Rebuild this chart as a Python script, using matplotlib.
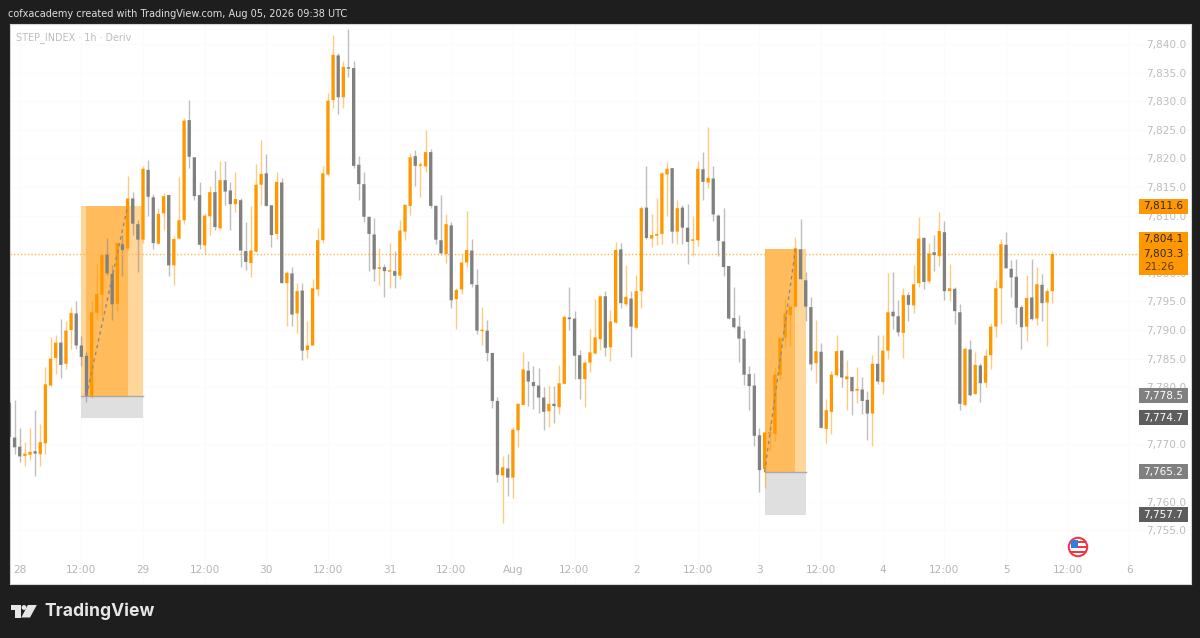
import matplotlib
matplotlib.use('Agg')
import matplotlib.pyplot as plt
import numpy as np
from matplotlib.patches import Rectangle, Circle, Polygon

# velas de 1h, STEP_INDEX, desde el 27 jul 22:00 hasta el 5 ago 09:00
opens = [
    7777.3, 7771.2, 7769.6, 7768.0, 7768.2, 7768.8, 7768.3, 7770.2, 7780.3, 7785.1,
    7787.8, 7784.1, 7790.0, 7792.9, 7787.3, 7785.5, 7778.5, 7793.0, 7796.2, 7803.2,
    7799.8, 7794.6, 7805.0, 7804.3, 7813.0, 7808.5, 7805.8, 7818.0, 7813.2, 7805.1,
    7810.4, 7813.6, 7801.3, 7806.0, 7809.2, 7826.7, 7820.2, 7813.6, 7804.8, 7809.9,
    7814.1, 7807.8, 7816.2, 7814.4, 7812.0, 7812.7, 7803.8, 7801.7, 7803.7, 7815.4,
    7817.4, 7811.8, 7806.8, 7815.8, 7798.2, 7799.9, 7792.9, 7796.9, 7786.5, 7787.3,
    7797.1, 7805.7, 7817.2, 7830.2, 7838.0, 7830.7, 7835.8, 7835.8, 7818.9, 7815.5,
    7809.8, 7806.7, 7800.7, 7801.0, 7800.2, 7800.3, 7799.5, 7807.2, 7811.7, 7820.4,
    7818.7, 7818.6, 7821.1, 7811.7, 7805.7, 7803.3, 7808.3, 7795.4, 7797.1, 7801.8,
    7803.9, 7797.9, 7789.8, 7789.9, 7786.0, 7777.6, 7764.6, 7765.8, 7764.2, 7772.5,
    7776.9, 7782.9, 7780.9, 7780.3, 7778.2, 7775.8, 7777.1, 7776.5, 7780.6, 7792.2,
    7792.0, 7785.6, 7781.4, 7784.3, 7785.9, 7788.4, 7795.9, 7787.0, 7791.3, 7804.1,
    7794.5, 7795.5, 7790.4, 7796.8, 7811.4, 7806.0, 7806.5, 7806.8, 7817.2, 7818.3,
    7807.2, 7811.4, 7807.9, 7805.6, 7805.7, 7818.1, 7815.8, 7816.5, 7810.0, 7805.5,
    7801.2, 7792.1, 7790.6, 7788.5, 7782.3, 7780.3, 7771.6, 7765.7, 7771.9, 7771.9,
    7782.1, 7788.7, 7792.6, 7794.1, 7804.1, 7798.7, 7794.0, 7784.2, 7786.2, 7772.7,
    7775.7, 7782.1, 7786.4, 7781.4, 7781.8, 7779.4, 7779.6, 7777.8, 7775.4, 7784.1,
    7780.9, 7786.4, 7793.2, 7792.4, 7789.5, 7796.1, 7794.3, 7798.2, 7806.1, 7798.5,
    7803.6, 7802.9, 7807.1, 7796.8, 7797.2, 7793.1, 7776.9, 7786.6, 7778.8, 7783.8,
    7780.8, 7785.6, 7790.6, 7797.3, 7804.9, 7800.7, 7799.3, 7794.0, 7790.6, 7795.7,
    7792.0, 7797.9, 7794.8, 7796.8,
]
highs = [
    7781.5, 7777.8, 7772.8, 7770.4, 7772.9, 7776.0, 7773.6, 7783.6, 7788.8, 7789.2,
    7791.9, 7791.6, 7794.1, 7795.0, 7788.9, 7786.2, 7795.0, 7801.7, 7803.4, 7806.1,
    7801.4, 7805.3, 7806.6, 7816.9, 7814.1, 7809.2, 7818.7, 7819.7, 7813.8, 7811.3,
    7813.9, 7813.8, 7806.4, 7816.8, 7827.1, 7830.2, 7820.2, 7815.8, 7810.5, 7815.1,
    7818.0, 7819.6, 7819.6, 7815.8, 7817.6, 7813.0, 7808.8, 7811.6, 7819.0, 7823.3,
    7820.8, 7811.8, 7817.6, 7816.5, 7800.3, 7801.0, 7798.2, 7798.2, 7791.5, 7799.0,
    7807.8, 7818.6, 7831.4, 7841.6, 7838.4, 7837.0, 7842.6, 7837.0, 7820.4, 7817.7,
    7809.8, 7809.6, 7804.3, 7801.5, 7805.2, 7803.8, 7809.2, 7811.9, 7821.0, 7821.4,
    7819.3, 7824.9, 7821.6, 7811.9, 7813.6, 7810.3, 7808.8, 7797.4, 7803.3, 7810.8,
    7805.9, 7800.6, 7794.1, 7791.8, 7786.0, 7778.3, 7768.0, 7768.4, 7773.0, 7777.3,
    7786.2, 7784.5, 7783.7, 7783.4, 7780.0, 7780.3, 7780.2, 7783.8, 7792.6, 7797.6,
    7793.4, 7786.5, 7784.5, 7790.2, 7795.4, 7796.1, 7796.8, 7793.5, 7805.4, 7805.2,
    7801.4, 7796.8, 7799.6, 7811.6, 7818.6, 7810.3, 7813.0, 7817.7, 7819.4, 7818.4,
    7812.7, 7811.8, 7812.0, 7809.9, 7819.6, 7821.1, 7825.5, 7818.6, 7810.3, 7811.3,
    7801.2, 7797.5, 7792.7, 7790.0, 7783.7, 7782.4, 7772.9, 7772.2, 7773.9, 7783.6,
    7788.7, 7795.5, 7794.2, 7806.3, 7809.4, 7800.2, 7795.8, 7791.7, 7787.8, 7777.9,
    7782.9, 7789.2, 7786.5, 7784.7, 7781.8, 7783.5, 7781.8, 7779.3, 7785.7, 7789.2,
    7789.2, 7799.9, 7800.2, 7795.2, 7797.3, 7796.6, 7801.3, 7809.7, 7806.3, 7805.3,
    7806.6, 7810.6, 7809.0, 7801.5, 7797.5, 7794.5, 7787.0, 7788.3, 7786.1, 7784.2,
    7786.6, 7791.3, 7798.7, 7805.9, 7807.1, 7802.2, 7802.4, 7794.3, 7799.7, 7802.4,
    7801.1, 7799.8, 7797.3, 7803.9,
]
lows = [
    7771.3, 7768.4, 7767.0, 7766.3, 7767.3, 7764.5, 7766.3, 7768.4, 7780.3, 7782.3,
    7781.7, 7783.1, 7786.6, 7786.7, 7783.7, 7777.5, 7778.1, 7791.9, 7792.3, 7799.6,
    7791.8, 7793.3, 7799.5, 7804.0, 7806.7, 7800.1, 7805.3, 7809.9, 7804.2, 7805.1,
    7807.5, 7799.4, 7797.8, 7806.0, 7808.5, 7818.4, 7812.7, 7804.2, 7803.3, 7806.6,
    7807.4, 7807.4, 7811.9, 7807.4, 7810.6, 7801.1, 7800.5, 7799.3, 7803.7, 7811.9,
    7811.7, 7804.6, 7805.9, 7798.2, 7790.7, 7790.7, 7789.5, 7784.8, 7785.1, 7787.3,
    7795.9, 7805.3, 7817.0, 7828.8, 7827.8, 7828.8, 7834.3, 7818.4, 7812.8, 7808.9,
    7800.4, 7798.5, 7797.8, 7795.7, 7797.4, 7797.3, 7798.9, 7805.7, 7810.1, 7815.2,
    7813.3, 7817.6, 7811.3, 7805.1, 7803.2, 7801.7, 7793.8, 7790.2, 7796.3, 7801.1,
    7797.6, 7789.3, 7787.4, 7784.6, 7776.4, 7763.5, 7756.2, 7760.9, 7760.7, 7769.5,
    7776.9, 7776.8, 7776.2, 7775.5, 7772.6, 7773.0, 7773.8, 7775.4, 7780.6, 7790.0,
    7781.4, 7777.9, 7776.5, 7782.7, 7785.8, 7786.5, 7785.5, 7784.5, 7791.3, 7793.8,
    7794.2, 7785.3, 7790.1, 7793.8, 7806.0, 7804.6, 7804.9, 7805.1, 7809.9, 7805.3,
    7805.0, 7805.0, 7801.6, 7803.0, 7804.7, 7812.7, 7814.9, 7809.1, 7802.9, 7799.4,
    7791.9, 7790.4, 7784.4, 7780.4, 7776.1, 7769.8, 7761.7, 7762.3, 7769.0, 7770.6,
    7781.5, 7787.1, 7787.2, 7794.1, 7798.9, 7791.5, 7783.0, 7780.8, 7772.9, 7770.3,
    7771.8, 7782.0, 7780.1, 7776.1, 7775.1, 7777.3, 7775.4, 7770.8, 7769.8, 7780.6,
    7778.9, 7785.0, 7790.1, 7789.0, 7785.1, 7791.5, 7793.0, 7797.6, 7797.2, 7798.3,
    7800.4, 7801.2, 7795.2, 7795.1, 7791.1, 7776.0, 7776.8, 7778.5, 7778.8, 7777.5,
    7780.0, 7783.2, 7788.7, 7791.1, 7800.8, 7795.7, 7791.1, 7786.7, 7788.1, 7791.8,
    7790.8, 7791.5, 7787.2, 7794.8,
]
closes = [
    7771.3, 7769.5, 7767.9, 7768.4, 7768.7, 7768.4, 7770.4, 7780.5, 7785.0, 7787.8,
    7783.9, 7789.9, 7793.0, 7787.3, 7785.3, 7778.5, 7793.1, 7796.3, 7803.1, 7799.9,
    7794.5, 7805.2, 7804.0, 7813.0, 7808.6, 7805.8, 7818.2, 7813.3, 7805.2, 7810.3,
    7813.4, 7801.3, 7805.9, 7809.2, 7826.6, 7820.3, 7813.4, 7804.9, 7810.0, 7814.1,
    7808.0, 7816.2, 7814.2, 7812.0, 7812.9, 7803.9, 7801.9, 7803.9, 7815.4, 7817.3,
    7811.7, 7806.6, 7815.9, 7798.2, 7800.0, 7792.7, 7796.8, 7786.4, 7787.3, 7797.3,
    7805.7, 7817.4, 7830.1, 7838.1, 7830.7, 7836.0, 7835.7, 7818.7, 7815.5, 7809.8,
    7806.8, 7800.6, 7801.0, 7800.3, 7800.3, 7799.5, 7807.4, 7811.9, 7820.2, 7818.7,
    7818.9, 7821.1, 7811.7, 7805.8, 7803.4, 7808.5, 7795.2, 7797.0, 7801.8, 7804.0,
    7798.0, 7789.9, 7790.0, 7786.0, 7777.6, 7764.7, 7766.0, 7764.2, 7772.6, 7777.1,
    7783.1, 7781.0, 7780.2, 7778.2, 7775.7, 7777.1, 7776.7, 7780.7, 7792.3, 7791.9,
    7785.5, 7781.4, 7784.3, 7786.1, 7788.7, 7795.9, 7786.9, 7791.5, 7804.0, 7794.7,
    7795.8, 7790.6, 7796.8, 7811.3, 7806.1, 7806.6, 7806.8, 7817.4, 7818.2, 7807.2,
    7811.3, 7807.9, 7805.4, 7805.7, 7818.2, 7815.9, 7816.6, 7810.2, 7805.6, 7801.0,
    7792.0, 7790.5, 7788.5, 7782.2, 7780.2, 7771.5, 7765.5, 7772.1, 7772.0, 7782.2,
    7788.6, 7792.9, 7794.1, 7804.3, 7798.9, 7794.1, 7784.0, 7786.3, 7772.9, 7776.0,
    7782.2, 7786.3, 7781.7, 7781.9, 7779.3, 7779.7, 7777.6, 7775.4, 7784.1, 7781.0,
    7786.4, 7793.1, 7792.4, 7789.6, 7796.1, 7794.4, 7798.0, 7806.0, 7798.4, 7803.4,
    7803.1, 7807.3, 7796.8, 7797.3, 7793.3, 7777.1, 7786.7, 7778.6, 7783.9, 7780.7,
    7785.5, 7790.6, 7797.3, 7805.0, 7800.8, 7799.2, 7793.9, 7790.5, 7795.6, 7791.9,
    7798.0, 7794.7, 7796.8, 7803.3,
]

# etiquetas de los ejes
price_ticks = [7755, 7760, 7770, 7780, 7785, 7790, 7795, 7800,
               7810, 7815, 7820, 7825, 7830, 7835, 7840]
time_pos = [2, 14, 26, 38, 50, 62, 74, 86, 98, 110, 122, 134, 146, 158, 170, 182, 194, 206, 218]
time_labels = ['28', '12:00', '29', '12:00', '30', '12:00', '31', '12:00', 'Aug', '12:00',
               '2', '12:00', '3', '12:00', '4', '12:00', '5', '12:00', '6']

# posiciones largas: inicio, fin, inicio del tramo, fin del tramo, stop, entrada, objetivo
long1 = [14, 26, 15, 23, 7774.7, 7778.5, 7811.6]
long2 = [147, 155, 147, 153, 7757.7, 7765.2, 7804.1]
last_price = 7803.3

DARK = '#1e1e1e'
ORANGE = '#ff9800'
GREY = '#808080'

fig = plt.figure(figsize=(12, 6.38), dpi=100, facecolor=DARK)
ax = fig.add_axes([9.5 / 1200, 1 - 584 / 638, (1191 - 9.5) / 1200, (584 - 24) / 638])
ax.set_facecolor('white')
ax.set_xlim(0.014, 230.0)
ax.set_ylim(7745.6, 7843.5)

for s in ax.spines.values():
    s.set_color('#d4d4d4')
    s.set_linewidth(0.8)

ax.set_xticks(time_pos)
ax.set_xticklabels(time_labels)
ax.set_yticks(price_ticks)
ax.set_yticklabels([f'{p:,.1f}' for p in price_ticks])
ax.yaxis.tick_right()
ax.tick_params(axis='y', length=0, pad=-32.5, labelsize=7.6, labelcolor='#bdbdbd')
ax.tick_params(axis='x', length=0, pad=-14, labelsize=7.6, labelcolor='#b5b5b5')
ax.grid(True, color='#fbfbfb', linewidth=0.8)
ax.set_axisbelow(True)

# cajas de las posiciones
for start, end, p_start, p_end, stop, entry, target in (long1, long2):
    ax.add_patch(Rectangle((start, entry), end - start, target - entry, color='#ffd699', lw=0, zorder=1))
    ax.add_patch(Rectangle((p_start, entry), p_end - p_start, target - entry, color='#ffbb5c', lw=0, zorder=1.1))
    ax.add_patch(Rectangle((start, stop), end - start, entry - stop, color='#dfdfdf', lw=0, zorder=1))
    ax.plot([start, end], [entry, entry], color='#aaaaaa', lw=1, zorder=1.2)
    ax.plot([p_start, p_end], [entry, target], color='#8c8c8c', lw=1, ls=(0, (2.5, 2.5)), zorder=4)

# velas
x = np.arange(len(closes))
o = np.array(opens)
h = np.array(highs)
l = np.array(lows)
c = np.array(closes)
cols = np.where(c >= o, ORANGE, GREY)
wicks = ax.vlines(x, l, h, colors=list(cols), linewidth=1, alpha=0.5, zorder=2)
bars = ax.bar(x, np.maximum(np.abs(c - o), 0.25), bottom=np.minimum(o, c), width=0.64,
              color=list(cols), linewidth=0, zorder=3)
for b in bars:
    b.set_snap(False)

# precio actual
ax.axhline(last_price, color='#ffb74d', lw=1, ls=(0, (1, 1.5)), zorder=2.5)

# etiquetas de precio a la derecha
tr = ax.get_yaxis_transform()
bx0 = (1138.7 - 9.5) / (1191 - 9.5)
bw = 49 / (1191 - 9.5)
pad_h = 7.6 / 5.72


def price_tag(price, fill, txt='white'):
    ax.add_patch(Rectangle((bx0, price - pad_h), bw, 2 * pad_h, transform=tr, color=fill, lw=0, zorder=6))
    ax.text(bx0 + bw / 2, price, f'{price:,.1f}', transform=tr, ha='center', va='center',
            fontsize=7.6, color=txt, zorder=7)


price_tag(7811.6, ORANGE, '#2a2a2a')
for p, col in [(7778.5, '#808080'), (7774.7, '#5d5d5d'), (7765.2, '#808080'), (7757.7, '#5d5d5d')]:
    price_tag(p, col)

ax.add_patch(Rectangle((bx0, 7799.6), bw, 7.5, transform=tr, color=ORANGE, lw=0, zorder=6))
ax.text(bx0 + bw / 2, 7805.9, '7,804.1', transform=tr, ha='center', va='center', fontsize=7.6, color='#2a2a2a', zorder=7)
ax.text(bx0 + bw / 2, 7803.3, '7,803.3', transform=tr, ha='center', va='center', fontsize=7.6, color='#2a2a2a', zorder=7)
ax.text(bx0 + 6 / 1181.5, 7801.0, '21:26', transform=tr, ha='left', va='center', fontsize=7.6, color='#5a3d10', zorder=7)

# capa en pixeles para cabecera, logo y bandera
top = fig.add_axes([0, 0, 1, 1], zorder=10)
top.set_xlim(0, 1200)
top.set_ylim(638, 0)
top.axis('off')
top.patch.set_alpha(0)

top.text(8, 14, 'cofxacademy created with TradingView.com, Aug 05, 2026 09:38 UTC',
         fontsize=7.05, color='#dedede', va='center', ha='left')
top.text(16, 37.5, 'STEP_INDEX · 1h · Deriv', fontsize=6.9, color='#bdbdbd', va='center', ha='left')

logo_col = '#e6e6e6'
top.add_patch(Polygon([(10.7, 605), (20.7, 605), (20.7, 617.5), (15, 617.5), (15, 610), (10.7, 610)],
                      color=logo_col, lw=0))
top.add_patch(Circle((24, 607.5), 2.4, color=logo_col, lw=0))
top.add_patch(Polygon([(27.8, 605), (36.8, 605), (30, 617.5), (21.3, 617.5)], color=logo_col, lw=0))
top.text(44, 611.5, 'TradingView', fontsize=12.6, family='Inter', weight='bold',
         color=logo_col, va='center', ha='left')

flag = Circle((1078, 547), 9.2, facecolor='white', edgecolor='#f23645', lw=1.5)
top.add_patch(flag)
for y0, xa, xb in [(541, 1078, 1085), (546, 1078, 1086.5), (550.5, 1070, 1086)]:
    top.add_patch(Rectangle((xa, y0), xb - xa, 2, color='#f23645', lw=0))
top.add_patch(Rectangle((1071, 540), 7, 7.5, color='#2f7fe0', lw=0))

fig.savefig('out.png', dpi=100, facecolor=DARK)
